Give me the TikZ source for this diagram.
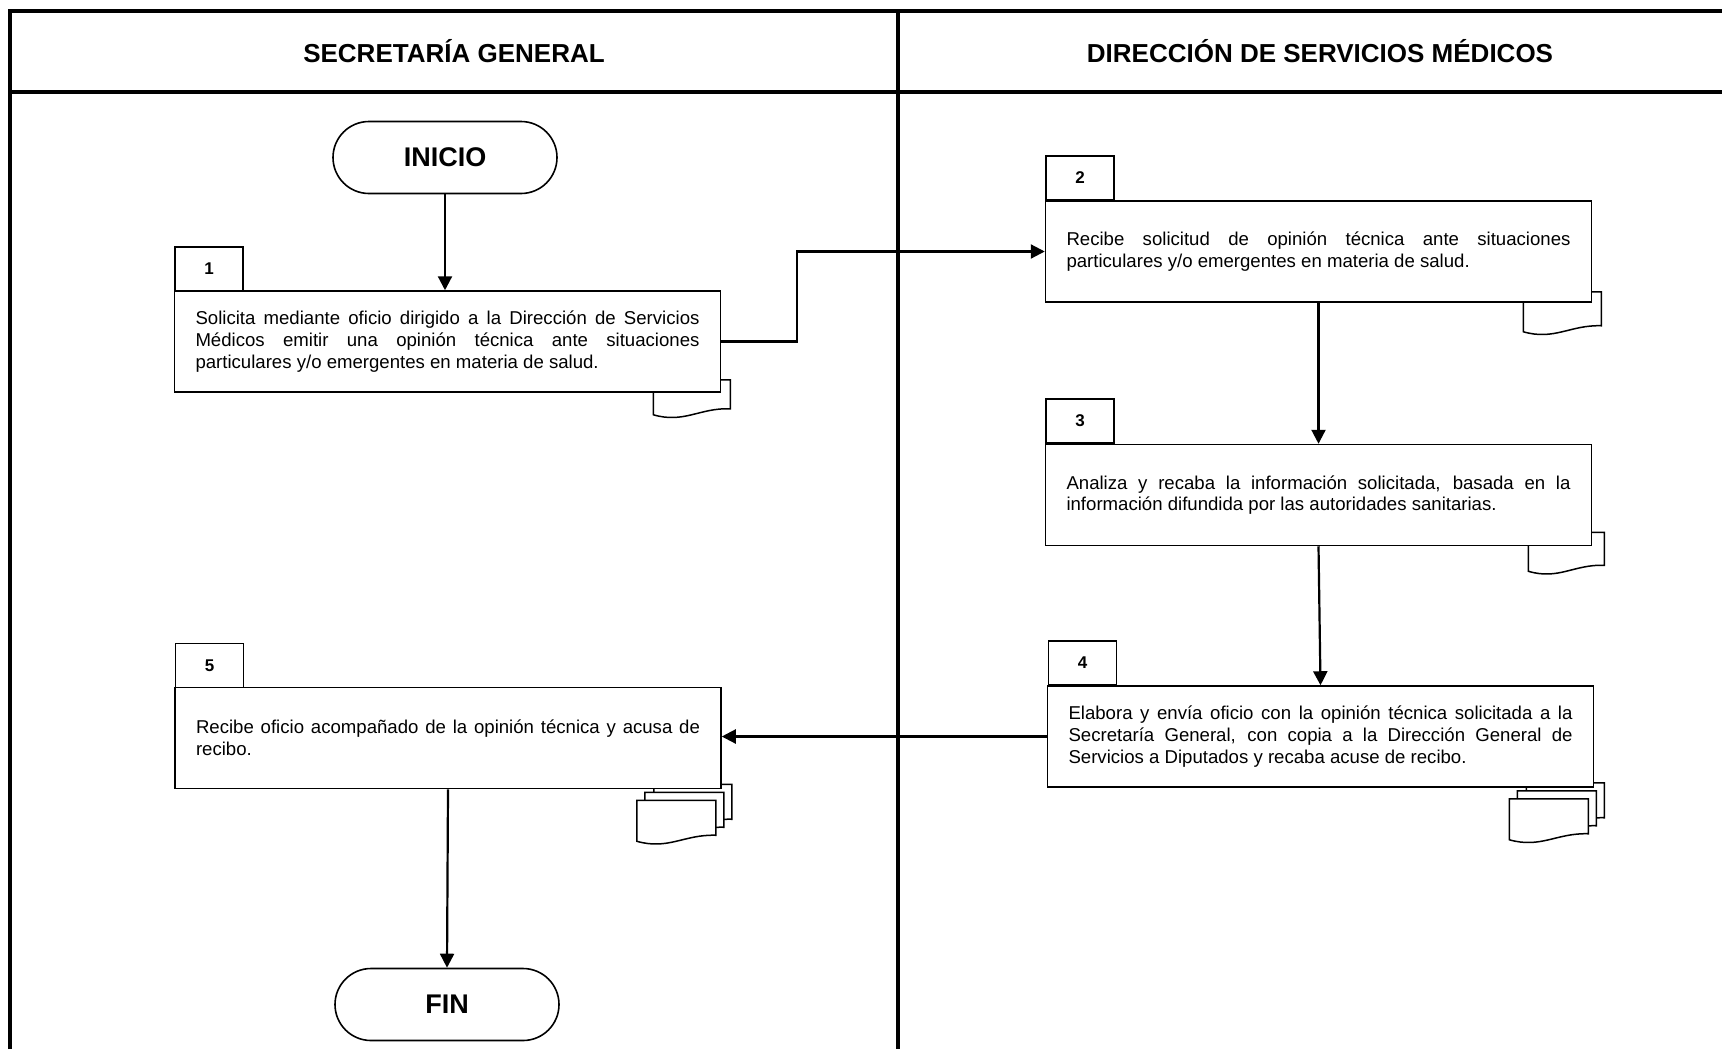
\documentclass[tikz,border=0pt]{standalone}
\usepackage{fontspec}
\setmainfont{Liberation Sans}
\usetikzlibrary{arrows.meta,calc,backgrounds}
\hyphenpenalty=10000
\tolerance=9999

% justified step description
\newcommand{\steptext}[1]{\parbox{252pt}{\fontsize{9.3}{10.9}\selectfont #1}}

% one paper sheet hanging below a task box: corner, left, right, top, height (px)
\newcommand{\docsheet}[5]{%
  \filldraw[sheet] ($(#1)+(#2,#4)$) -- ($(#1)+(#2,{#4+#5})$)
    .. controls ($(#1)+({0.6*(#2)+0.4*(#3)},{#4+#5+9})$) and ($(#1)+({0.4*(#2)+0.6*(#3)},{#4+#5-7})$)
    .. ($(#1)+(#3,{#4+#5-6})$) -- ($(#1)+(#3,#4)$) -- cycle;}
% three stacked sheets
\newcommand{\docstack}[1]{%
  \docsheet{#1}{-68}{10}{-5}{41}%
  \docsheet{#1}{-77}{2}{3}{41}%
  \docsheet{#1}{-85}{-6}{11}{41}}

\begin{document}
\begin{tikzpicture}[x=0.5pt,y=-0.5pt,
  frame/.style={line width=1.6pt},
  head/.style={font=\bfseries\fontsize{13}{15}\selectfont},
  term/.style={draw,fill=white,line width=0.8pt,rounded corners=18pt,
    minimum width=112pt,minimum height=36pt,inner sep=0pt,
    font=\bfseries\fontsize{13.5}{16}\selectfont},
  tabbox/.style={draw,fill=white,line width=0.75pt,minimum width=34pt,
    minimum height=22pt,inner sep=0pt,font=\bfseries\fontsize{8.5}{10}\selectfont},
  task/.style={draw,fill=white,line width=0.75pt,inner xsep=10.5pt,
    minimum width=273pt,minimum height=50.5pt},
  sheet/.style={fill=white,draw=black,line width=0.75pt},
  flow/.style={line width=1.1pt,-{Triangle[length=7pt,width=7pt]}}]

\useasboundingbox (0,0) rectangle (1722,1049);

% lane frame
\draw[frame] (10,1049) -- (10,11) -- (1722,11);
\draw[frame] (10,92) -- (1722,92);
\draw[frame] (898,11) -- (898,1049);

\node[head] (h1) at (454,51.5) {SECRETARÍA GENERAL};
\node[head] (h2) at (1320,51.5) {DIRECCIÓN DE SERVICIOS MÉDICOS};

% terminals
\node[term] (inicio) at (445,157.5) {INICIO};
\node[term] (fin) at (447,1004.5) {FIN};

% steps
\node[tabbox] (t1) at (209,269) {1};
\node[task] (b1) at (447.5,341.5) {\steptext{Solicita mediante oficio dirigido a la Dirección de Servicios\linebreak Médicos emitir una opinión técnica ante situaciones\linebreak particulares y/o emergentes en materia de salud.}};

\node[tabbox] (t2) at (1080,178) {2};
\node[task] (b2) at (1318.5,251.5) {\steptext{Recibe solicitud de opinión técnica ante situaciones\linebreak particulares y/o emergentes en materia de salud.}};

\node[tabbox] (t3) at (1080,421) {3};
\node[task] (b3) at (1318.5,495) {\steptext{Analiza y recaba la información solicitada, basada en la\linebreak información difundida por las autoridades sanitarias.}};

\node[tabbox] (t4) at (1082.5,663) {4};
\node[task] (b4) at (1320.5,736.5) {\steptext{Elabora y envía oficio con la opinión técnica solicitada a la\linebreak Secretaría General, con copia a la Dirección General de\linebreak Servicios a Diputados y recaba acuse de recibo.}};

\node[tabbox] (t5) at (209.5,665.5) {5};
\node[task] (b5) at (448,738) {\steptext{Recibe oficio acompañado de la opinión técnica y acusa de\linebreak recibo.}};

% documents behind the steps
\begin{scope}[on background layer]
  \docsheet{b1.south east}{-68}{9}{-13}{35}
  \docsheet{b2.south east}{-69}{9}{-11}{40}
  \docsheet{b3.south east}{-64}{12}{-14}{39}
  \docstack{b4.south east}
  \docstack{b5.south east}
\end{scope}

% connectors
\coordinate (bend) at (797,0);
\draw[flow] (inicio.south) -- (inicio.south |- b1.north);
\draw[flow] (b1.east) -| (bend |- b2.west) -- (b2.west);
\draw[flow] (b2.south) -- (b3.north);
\draw[flow] (b3.south) -- (b4.north);
\draw[flow] (b4.west) -- (b4.west -| b5.east);
\draw[flow] (b5.south) -- (fin.north);
\end{tikzpicture}
\end{document}
